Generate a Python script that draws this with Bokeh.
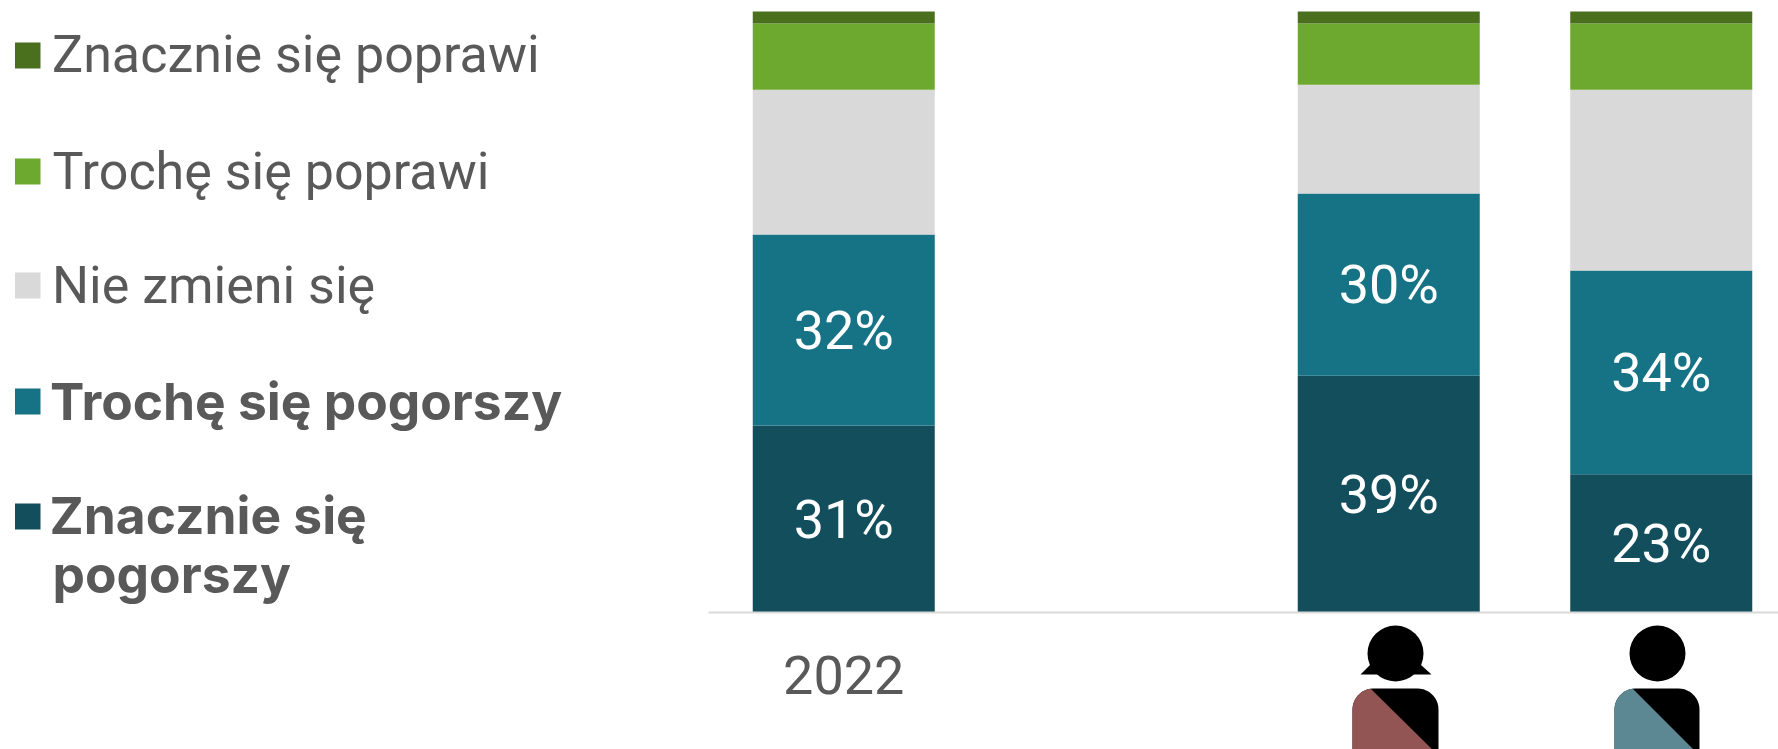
import numpy as np
from bokeh.plotting import figure
from bokeh.layouts import row, column
from bokeh.models import Range1d, LinearAxis, FixedTicker
from bokeh.core.properties import value
from bokeh.embed import file_html
from bokeh.resources import INLINE

# ---- data ----
categories = ["2022", "", "", ""]
drawn = [0, 2, 3]
znacznie_pog = [31.1, 39.4, 23.0]
troche_pog = [31.8, 30.3, 33.9]
nie_zmieni = [24.1, 18.1, 30.1]
troche_pop = [11.0, 10.2, 11.0]
znacznie_pop = [2.0, 2.0, 2.0]
label_pog_z = ["31%", "39%", "23%"]
label_pog_t = ["32%", "30%", "34%"]
colors = ["#124e5c", "#167285", "#d9d9d9", "#6ea92f", "#4a701e"]
legend_labels = ["Znacznie się poprawi", "Trochę się poprawi", "Nie zmieni się", "Trochę się pogorszy", "Znacznie się\npogorszy"]
TEXT = "#595959"
FONT = "Roboto"
BOLD_FONT = "Inter"

W, H = 1778, 749
SPLIT = 708
BASE = 612

# ---- legend panel ----
leg = figure(width=SPLIT, height=H, x_range=Range1d(0, SPLIT), y_range=Range1d(H, 0),
             output_backend="svg", toolbar_location=None, min_border=0, outline_line_color=None)
leg.axis.visible = False
leg.grid.visible = False
sw_top = [42, 158, 272, 388, 503]
sw_col = [colors[4], colors[3], colors[2], colors[1], colors[0]]
leg.quad(left=[14.5] * 5, right=[40] * 5, top=sw_top, bottom=[t + 26 for t in sw_top], color=sw_col, line_color=None)
lines = [(legend_labels[0], 51.5, 54, "normal"), (legend_labels[1], 52, 171, "normal"), (legend_labels[2], 51.5, 285, "normal"),
         (legend_labels[3], 49.5, 400, "bold"), (legend_labels[4].split("\n")[0], 49, 514, "bold"), (legend_labels[4].split("\n")[1], 52, 573, "bold")]
for t, x, y, st in lines:
    leg.text(x=[x], y=[y], text=[t], text_font=value(FONT if st == "normal" else BOLD_FONT), text_font_style=st,
             text_font_size="52px" if st == "normal" else "51.5px",
             text_color=TEXT, text_baseline="middle")

# ---- chart ----
PX = 272.5
x0 = -0.5 + 1 / PX
x1 = x0 + (W - SPLIT) / PX
y_per = 601 / 100
p = figure(width=W - SPLIT, height=H, x_range=Range1d(x0, x1), y_range=Range1d(0, 100 + 11 / y_per),
           output_backend="svg", toolbar_location=None, min_border=0, min_border_bottom=H - BASE,
           outline_line_color=None, x_axis_location=None, y_axis_location=None)
p.grid.visible = False
bottom = np.zeros(3)
for vals, c in zip([znacznie_pog, troche_pog, nie_zmieni, troche_pop, znacznie_pop], colors):
    vals = np.array(vals)
    p.vbar(x=drawn, width=182 / PX, bottom=bottom, top=bottom + vals, color=c, line_color=None)
    bottom = bottom + vals
for vals, base, labs in [(znacznie_pog, np.zeros(3), label_pog_z),
                         (troche_pog, np.array(znacznie_pog), label_pog_t)]:
    p.text(x=drawn, y=base + np.array(vals) / 2, text=labs, text_color="white", text_align="center",
           text_baseline="middle", text_font=value(FONT), text_font_size="54px")
ax = LinearAxis(ticker=FixedTicker(ticks=[0]), major_label_overrides={0: categories[0]})
ax.axis_line_color = "#d9d9d9"
ax.axis_line_width = 2
ax.major_tick_line_color = None
ax.minor_tick_line_color = None
ax.major_label_standoff = 37
ax.major_label_text_font = FONT
ax.major_label_text_font_size = "54px"
ax.major_label_text_color = TEXT
p.add_layout(ax, "below")

# ---- icons (drawn in page pixels, overlaid on the axis band) ----
ic = figure(width=W - SPLIT, height=H - BASE, x_range=Range1d(SPLIT, W), y_range=Range1d(H, BASE),
            output_backend="svg", toolbar_location=None, min_border=0, outline_line_color=None,
            background_fill_alpha=0, border_fill_alpha=0, margin=(BASE - H, 0, 0, 0))
ic.axis.visible = False
ic.grid.visible = False

def body(l, r, top=688, rad=21, bot=760):
    a = np.linspace(np.pi, 1.5 * np.pi, 12)
    xs = list(l + rad + rad * np.cos(a)) + list(r - rad - rad * np.cos(a)[::-1])
    ys = list(top + rad + rad * np.sin(a)) + list(top + rad + rad * np.sin(a)[::-1])
    return [l] + xs + [r], [bot] + ys + [bot]

def part(l, dx_top, dx_bot, top=688, rad=21, bot=760):
    a = np.linspace(np.pi, 1.5 * np.pi, 12)
    xs = list(l + rad + rad * np.cos(a))
    ys = list(top + rad + rad * np.sin(a))
    d = dx_bot + (bot - 749)
    return [l] + xs + [dx_top, d], [bot] + ys + [top, bot]

for cx, l, r, dt, db, col in [(1395, 1352, 1438, 1370, 1432, "#935454"), (1657, 1614, 1699, 1632, 1693, "#5c8894")]:
    ic.circle(x=[cx], y=[653], radius=28, color="black", line_color=None)
    xs, ys = body(l, r)
    ic.patch(xs, ys, color="black", line_color=None)
    xs, ys = part(l, dt, db)
    ic.patch(xs, ys, color=col, line_color=None)
ic.patch([1360, 1370, 1420, 1431], [674, 664, 664, 674], color="black", line_color=None)

chart = column(p, ic, spacing=0)
page = row(leg, chart, spacing=0)
open("out.html", "w").write(file_html(page, INLINE))
